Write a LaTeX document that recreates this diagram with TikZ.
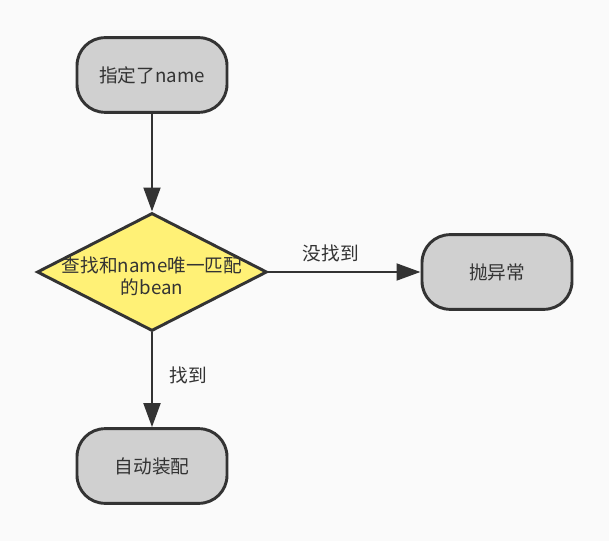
\documentclass[tikz,border=0pt]{standalone}
\usepackage{fontspec}
\setmainfont{Noto Sans CJK SC}
\usetikzlibrary{shapes.geometric, arrows.meta}
\definecolor{linegray}{HTML}{333333}
\definecolor{boxgray}{HTML}{D0D0D0}
\definecolor{decyellow}{HTML}{FFF176}
\definecolor{bggray}{HTML}{FAFAFA}
\tikzset{
    ->, % all edges are directed
    >={Triangle[length=18pt, width=12.5pt]}, % big solid arrow heads
    every node/.style={text=linegray, font=\fontsize{14pt}{16.5pt}\selectfont}, % text look
    every edge/.style={draw=linegray, line width=2.2pt}, % connector look
    terminal/.style={draw=linegray, fill=boxgray, line width=2.2pt, rounded corners=21pt,
        minimum width=112.5pt, minimum height=56pt}, % start and end boxes
    decision/.style={draw=linegray, fill=decyellow, line width=2.2pt, diamond,
        minimum width=172.5pt, minimum height=88.5pt, inner sep=0pt}, % the check
}

\begin{document}
\begin{tikzpicture}[x=0.75pt, y=-0.75pt]
                            \fill[bggray] (0,0) rectangle (609,541);
                            \node[terminal] (start) at (152,75) {指定了name};
                            \node[decision] (find) at (152,272) {};
                            \node[align=center] (findtext) at (152,276) {查找和name唯一匹配\\的bean};
                            \node[terminal] (error) at (497,272) {抛异常};
                            \node[terminal] (wire) at (152,466) {自动装配};
                            \draw
                            (start) edge (find)
                            (find) edge node[above=3pt, pos=0.41]{没找到} (error)
                            (find) edge node[right=9pt, pos=0.45]{找到} (wire)
                            ;
                        \end{tikzpicture}
\end{document}
